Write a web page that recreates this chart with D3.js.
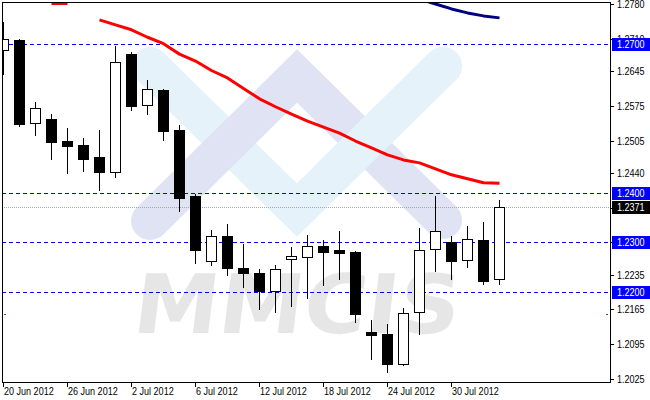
<!DOCTYPE html>
<html><head><meta charset="utf-8">
<script src="https://cdn.jsdelivr.net/npm/d3@7"></script>
<style>html,body{margin:0;padding:0;background:#fff;} svg{display:block;}</style>
</head><body><svg id="c" width="650" height="400"></svg>
<script>
// ---------- DATA ----------
const dates = ["2012-06-20","2012-06-21","2012-06-22","2012-06-25","2012-06-26","2012-06-27","2012-06-28","2012-06-29",
  "2012-07-02","2012-07-03","2012-07-04","2012-07-05","2012-07-06","2012-07-09","2012-07-10","2012-07-11","2012-07-12",
  "2012-07-13","2012-07-16","2012-07-17","2012-07-18","2012-07-19","2012-07-20","2012-07-23","2012-07-24","2012-07-25",
  "2012-07-26","2012-07-27","2012-07-30","2012-07-31","2012-08-01","2012-08-02"];
const openP  = [1.2687,1.2707,1.2540,1.2548,1.2504,1.2496,1.2472,1.2441,1.2679,1.2576,1.2607,1.2526,1.2394,1.2263,1.2313,1.2248,
  1.2238,1.2201,1.2266,1.2270,1.2293,1.2285,1.2281,1.2119,1.2115,1.2056,1.2159,1.2286,1.2300,1.2264,1.2305,1.2226];
const highP  = [1.2743,1.2709,1.2583,1.2558,1.2530,1.2510,1.2526,1.2695,1.2684,1.2627,1.2608,1.2536,1.2397,1.2325,1.2337,1.2297,
  1.2246,1.2254,1.2291,1.2315,1.2305,1.2323,1.2283,1.2144,1.2136,1.2168,1.2329,1.2394,1.2313,1.2333,1.2340,1.2385];
const lowP   = [1.2639,1.2535,1.2517,1.2468,1.2440,1.2444,1.2406,1.2432,1.2567,1.2559,1.2507,1.2364,1.2259,1.2255,1.2235,1.2211,
  1.2166,1.2160,1.2172,1.2188,1.2215,1.2226,1.2140,1.2066,1.2039,1.2052,1.2116,1.2243,1.2227,1.2251,1.2217,1.2217];
const closeP = [1.2709,1.2539,1.2570,1.2503,1.2493,1.2468,1.2442,1.2663,1.2575,1.2608,1.2525,1.2390,1.2285,1.2313,1.2249,1.2239,
  1.2203,1.2246,1.2272,1.2292,1.2281,1.2279,1.2156,1.2114,1.2056,1.2157,1.2284,1.2322,1.2262,1.2306,1.2223,1.2371];
const maRed  = [null,null,null,1.2781,1.2781,null,1.2748,1.2738,1.2728,1.2713,1.2700,1.2679,1.2665,1.2646,1.2631,1.2610,
  1.2589,1.2573,1.2558,1.2544,1.2532,1.2520,1.2504,1.2490,1.2476,1.2466,1.2460,1.2448,1.2436,1.2428,1.2420,1.2419];
const maNavy = [null,null,null,null,null,null,null,null,null,null,null,null,null,null,null,null,
  null,null,null,null,null,null,null,null,null,null,1.2790,1.2780,1.2770,1.2762,1.2756,1.2752];
const yTickLabels = ["1.2780","1.2710","1.2645","1.2575","1.2505","1.2440","1.2370","1.2300","1.2235","1.2165","1.2095","1.2025"];
const xTickDates  = ["2012-06-20","2012-06-26","2012-07-02","2012-07-06","2012-07-12","2012-07-18","2012-07-24","2012-07-30"];
const xTickLabels = ["20 Jun 2012","26 Jun 2012","2 Jul 2012","6 Jul 2012","12 Jul 2012","18 Jul 2012","24 Jul 2012","30 Jul 2012"];
const levelLines = [1.2700, 1.2400, 1.2300, 1.2200];
const lastPrice = 1.2371;
const markPrice = 1.2156;

// ---------- LAYOUT ----------
const L = 2, T = 2, R = 610, B = 382;
const FONT = "'Liberation Sans', Arial, sans-serif";
const svg = d3.select("#c");
const x = d3.scaleBand().domain(dates).range([-5, -5 + 16 * dates.length]).paddingInner(0);
const cx = d => Math.round(x(d) + x.bandwidth() / 2);
const y = d3.scaleLinear().domain([1.2025, 1.2780]).range([378.9, 3.97]);
const py = v => Math.round(y(v)) + 0.5;

svg.append("defs").append("clipPath").attr("id", "plot")
  .append("rect").attr("x", L + 0.5).attr("y", T + 0.5).attr("width", R - L).attr("height", B - T);

// ---------- WATERMARK ----------
const wm = svg.append("g").attr("clip-path", "url(#plot)");
wm.append("text").text("MMCIS")
  .attr("transform", "translate(131,333) skewX(-7)")
  .attr("font-family", "'DejaVu Sans', sans-serif").attr("font-weight", "bold")
  .attr("font-size", 82).attr("fill", "#e6e6e6")
  .attr("textLength", 326).attr("lengthAdjust", "spacingAndGlyphs");
const lb = "#e5f2fa", lv = "#dfe3f4";
const pathV = [[150, 66], [297, 210], [443, 66]];
const pathA = [[150, 221], [297, 76], [443, 220]];
const ln = d3.line();
wm.append("path").attr("d", ln(pathV)).attr("fill", "none").attr("stroke", lb).attr("stroke-width", 38)
  .attr("stroke-linecap", "round").attr("stroke-linejoin", "miter");
wm.append("path").attr("d", ln(pathA)).attr("fill", "none").attr("stroke", lv).attr("stroke-width", 38)
  .attr("stroke-linecap", "round").attr("stroke-linejoin", "miter");
wm.append("path").attr("d", ln([[330, 177], [443, 66]])).attr("fill", "none").attr("stroke", lb).attr("stroke-width", 38)
  .attr("stroke-linecap", "round");

// ---------- LEVEL LINES ----------
const g = svg.append("g").attr("clip-path", "url(#plot)");
g.selectAll("line.lvl").data(levelLines).join("line").attr("class", "lvl")
  .attr("x1", L).attr("x2", R).attr("y1", d => py(d)).attr("y2", d => py(d))
  .attr("stroke", "#0000ff").attr("stroke-width", 1).attr("stroke-dasharray", "4,3");
g.append("line").attr("x1", L).attr("x2", R).attr("y1", py(lastPrice)).attr("y2", py(lastPrice))
  .attr("stroke", "#a8a8a8").attr("stroke-width", 1).attr("stroke-dasharray", "1,1");

// ---------- CANDLES ----------
const candles = dates.map((d, i) => ({d, o: openP[i], h: highP[i], l: lowP[i], c: closeP[i]}));
const cg = g.selectAll("g.cdl").data(candles).join("g").attr("class", "cdl");
cg.append("line")
  .attr("x1", d => cx(d.d) + 0.5).attr("x2", d => cx(d.d) + 0.5)
  .attr("y1", d => Math.round(y(d.h))).attr("y2", d => Math.round(y(d.l)) + 1)
  .attr("stroke", "#000").attr("stroke-width", 1);
cg.append("rect")
  .attr("x", d => cx(d.d) - 4.5).attr("width", 10)
  .attr("y", d => Math.round(y(Math.max(d.o, d.c))) + 0.5)
  .attr("height", d => Math.max(1, Math.round(y(Math.min(d.o, d.c))) - Math.round(y(Math.max(d.o, d.c)))))
  .attr("fill", d => d.c >= d.o ? "#fff" : "#000")
  .attr("stroke", "#000").attr("stroke-width", 1);

// ---------- MOVING AVERAGES ----------
const maLine = d3.line().defined(v => v.v != null).x(v => cx(v.d) + 0.5).y(v => y(v.v));
g.append("path").attr("d", maLine(dates.map((d, i) => ({d, v: maRed[i]}))))
  .attr("fill", "none").attr("stroke", "#ff0000").attr("stroke-width", 3).attr("stroke-linejoin", "round");
g.append("path").attr("d", maLine(dates.map((d, i) => ({d, v: maNavy[i]}))))
  .attr("fill", "none").attr("stroke", "#000080").attr("stroke-width", 3).attr("stroke-linejoin", "round");

// small green marks
svg.append("line").attr("x1", 4).attr("x2", 6).attr("y1", py(markPrice)).attr("y2", py(markPrice)).attr("stroke", "#008000");
svg.append("line").attr("x1", 606).attr("x2", 608).attr("y1", py(markPrice)).attr("y2", py(markPrice)).attr("stroke", "#008000");

// ---------- FRAME ----------
svg.append("rect").attr("x", L + 0.5).attr("y", T + 0.5).attr("width", R - L).attr("height", B - T)
  .attr("fill", "none").attr("stroke", "#000").attr("stroke-width", 1);

function condense(sel, f) {
  sel.each(function () { const w = this.getComputedTextLength(); d3.select(this).attr("textLength", w * f).attr("lengthAdjust", "spacingAndGlyphs"); });
}

// ---------- RIGHT AXIS ----------
const ya = svg.append("g");
ya.selectAll("line").data(yTickLabels).join("line")
  .attr("x1", R + 1).attr("x2", R + 4).attr("y1", d => py(+d)).attr("y2", d => py(+d)).attr("stroke", "#000");
const yt = ya.selectAll("text").data(yTickLabels).join("text")
  .attr("x", 617).attr("y", d => Math.round(y(+d)) + 4).text(d => d)
  .attr("font-family", FONT).attr("font-size", 10.5).attr("fill", "#000");
condense(yt, 0.86);

function tag(v, bg) {
  const yy = Math.round(y(v));
  svg.append("rect").attr("x", 612).attr("y", yy - 6).attr("width", 38).attr("height", 13).attr("fill", bg);
  const t = svg.append("text").attr("x", 617).attr("y", yy + 4).text(v.toFixed(4))
    .attr("font-family", FONT).attr("font-size", 10.5).attr("fill", "#fff");
  condense(t, 0.86);
}
levelLines.forEach(v => tag(v, "#0000ff"));
tag(lastPrice, "#000");

// ---------- BOTTOM AXIS ----------
const xa = svg.append("g");
xa.selectAll("line").data(xTickDates).join("line")
  .attr("x1", d => cx(d) + 0.5).attr("x2", d => cx(d) + 0.5).attr("y1", B).attr("y2", B + 5).attr("stroke", "#000");
const xt = xa.selectAll("text").data(xTickDates).join("text")
  .attr("x", d => cx(d) + 1).attr("y", 395).text((d, i) => xTickLabels[i])
  .attr("font-family", FONT).attr("font-size", 10.5).attr("fill", "#000");
condense(xt, 0.86);
</script></body></html>
